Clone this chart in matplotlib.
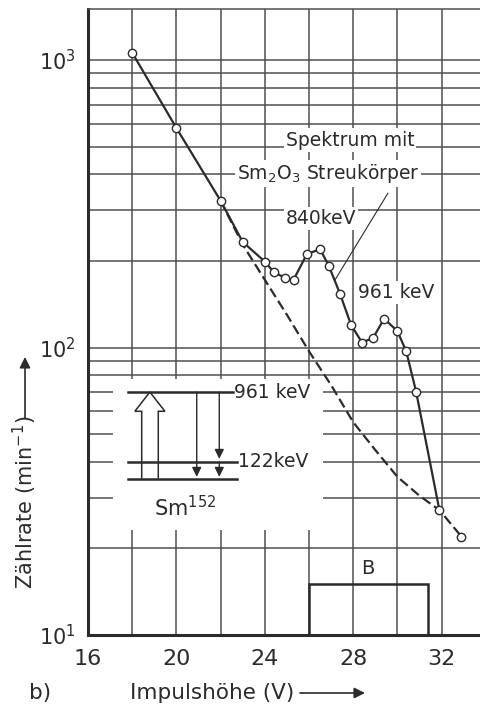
import matplotlib
matplotlib.use("Agg")
import matplotlib.pyplot as plt
import matplotlib.patches as patches
from matplotlib.ticker import FixedLocator, NullFormatter

plt.rcParams['font.family'] = ['DejaVu Sans']
plt.rcParams['mathtext.default'] = 'regular'

# Messpunkte: Spektrum mit Sm2O3 Streukoerper
impulshoehe = [18, 20, 22, 23, 24, 24.4, 24.9, 25.3, 25.9, 26.5, 26.9, 27.4,
               27.9, 28.4, 28.9, 29.4, 30.0, 30.4, 30.85, 31.9, 32.9]
zaehlrate = [1060, 580, 324, 233, 199, 183, 175, 172, 211, 220, 192, 154,
             120, 104, 108, 126, 114, 97, 70, 27.2, 22]

# Untergrund (gestrichelt)
untergrund_x = [22, 23, 24, 25, 26, 27, 28, 29, 30, 31, 31.9, 32.9]
untergrund_y = [324, 228, 172, 130, 97, 74, 55, 44, 35.5, 30.5, 27.2, 22]

# Bereich B
b_x = [26.0, 31.4]
b_y = [10, 15]

x_ticks = [16, 20, 24, 28, 32]
x_minor = [18, 22, 26, 30, 34]
y_ticks = [10, 100, 1000]
y_labels = ['$10^1$', '$10^2$', '$10^3$']

ink = '#2b2b2b'
grid_c = '#505050'

fig = plt.figure(figsize=(4.81, 7.11), dpi=100)
ax = fig.add_axes([88 / 481, 76 / 711, 397.8 / 481, 625.6 / 711])
ax.set_yscale('log')
ax.set_xlim(16, 34)
ax.set_ylim(10, 1500)

ax.xaxis.set_major_locator(FixedLocator(x_ticks))
ax.xaxis.set_minor_locator(FixedLocator(x_minor))
ax.yaxis.set_major_locator(FixedLocator(y_ticks))
ax.yaxis.set_minor_locator(FixedLocator([k * d for d in (10, 100) for k in range(2, 10)]))
ax.yaxis.set_minor_formatter(NullFormatter())
ax.set_yticklabels(y_labels)
ax.tick_params(which='both', length=0, colors=ink)
ax.tick_params(axis='x', labelsize=16, pad=10)
ax.tick_params(axis='y', labelsize=15, pad=9)
ax.grid(True, which='both', color=grid_c, lw=1.1, zorder=0)
ax.set_axisbelow(True)

for s in ['left', 'bottom']:
    ax.spines[s].set_linewidth(2.2)
    ax.spines[s].set_color(ink)
ax.spines['top'].set_linewidth(1.1)
ax.spines['top'].set_color(grid_c)
ax.spines['right'].set_color(grid_c)

# weisses Feld fuer das Termschema
ax.add_patch(patches.Rectangle((17.13, 23.2), 26.63 - 17.13, 78 - 23.2,
                               facecolor='white', edgecolor='none', zorder=1))

# Kurven
ax.plot(untergrund_x, untergrund_y, color=ink, lw=1.6, ls=(0, (4.5, 2)), zorder=3)
ax.plot(impulshoehe[:-1], zaehlrate[:-1], color=ink, lw=1.6, zorder=3)
ax.plot(impulshoehe, zaehlrate, ls='none', marker='o', ms=6, mfc='white',
        mec=ink, mew=1.0, zorder=4)

# Bereich B
ax.add_patch(patches.Rectangle((b_x[0], b_y[0]), b_x[1] - b_x[0], b_y[1] - b_y[0],
                               fill=False, edgecolor=ink, lw=1.8, zorder=3))
ax.text(28.68, 17.0, 'B', fontsize=14, color=ink, ha='center', va='center')

# Beschriftung
box = dict(facecolor='white', edgecolor='none', pad=1.5)
ax.text(27.86, 527, 'Spektrum mit', fontsize=13.5, color=ink, ha='center',
        va='center', bbox=box, zorder=5)
ax.text(26.86, 404, 'Sm$_2$O$_3$ Streukörper', fontsize=13.5, color=ink,
        ha='center', va='center', bbox=box, zorder=5)
ax.text(26.54, 282, '840keV', fontsize=13.5, color=ink, ha='center',
        va='center', bbox=box, zorder=5)
ax.text(29.94, 155, '961 keV', fontsize=13.5, color=ink, ha='center',
        va='center', bbox=box, zorder=5)
ax.plot([29.57, 27.18], [344, 172], color=ink, lw=0.8, zorder=5)

# Termschema Sm152
ax.plot([17.82, 22.57], [70, 70], color=ink, lw=1.8, zorder=2)
ax.plot([17.82, 22.73], [40, 40], color=ink, lw=1.8, zorder=2)
ax.plot([17.82, 22.73], [35, 35], color=ink, lw=1.8, zorder=2)
ax.text(22.62, 70, '961 keV', fontsize=13.5, color=ink, ha='left', va='center')
ax.text(22.78, 40, '122keV', fontsize=13.5, color=ink, ha='left', va='center')
ax.text(20.4, 27.7, 'Sm$^{152}$', fontsize=15, color=ink, ha='center', va='center')

hohl = [(18.43, 35), (18.43, 60), (18.12, 60), (18.8, 70), (19.48, 60),
        (19.18, 60), (19.18, 35)]
ax.add_patch(patches.Polygon(hohl, closed=False, fill=False, edgecolor=ink,
                             lw=1.1, zorder=2))
pfeil = dict(arrowstyle='-|>', color=ink, lw=1.0, mutation_scale=14,
             shrinkA=0, shrinkB=0)
ax.annotate('', xy=(20.92, 35.5), xytext=(20.92, 70), arrowprops=pfeil, zorder=2)
ax.annotate('', xy=(21.94, 41), xytext=(21.94, 70), arrowprops=pfeil, zorder=2)
ax.annotate('', xy=(21.94, 35.5), xytext=(21.94, 40), arrowprops=pfeil, zorder=2)

# Achsenbeschriftung mit Pfeilen
fig.text(25 / 481, (711 - 502) / 711, 'Zählrate (min$^{-1}$)', rotation=90,
         fontsize=15, color=ink, ha='center', va='center')
fig.text(212 / 481, (711 - 693) / 711, 'Impulshöhe (V)', fontsize=15.5,
         color=ink, ha='center', va='center')
fig.text(40 / 481, (711 - 693) / 711, 'b)', fontsize=15.5, color=ink,
         ha='center', va='center')
achse = dict(arrowstyle='-|>', color=ink, lw=1.2, mutation_scale=16,
             shrinkA=0, shrinkB=0)
fig.add_artist(patches.FancyArrowPatch((25 / 481, (711 - 418) / 711),
                                       (25 / 481, (711 - 357) / 711),
                                       transform=fig.transFigure, **achse))
fig.add_artist(patches.FancyArrowPatch((300 / 481, (711 - 693) / 711),
                                       (365 / 481, (711 - 693) / 711),
                                       transform=fig.transFigure, **achse))

fig.savefig('out.png', dpi=100)
